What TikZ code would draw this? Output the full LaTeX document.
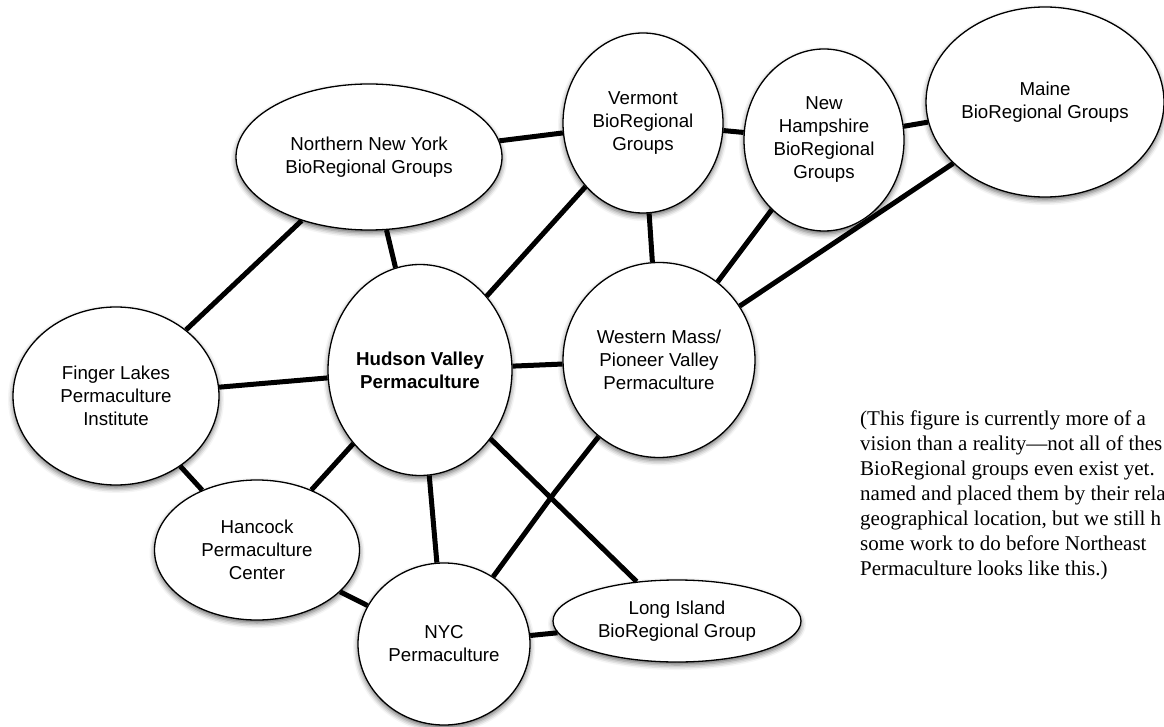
\documentclass[tikz,border=0pt]{standalone}
\usepackage{fontspec}
\setmainfont{Liberation Serif}
\setsansfont{Liberation Sans}
\usetikzlibrary{shapes.geometric,shadows.blur}

\tikzset{
  group/.style={ellipse, draw=black, line width=1.3pt, fill=white, inner sep=0pt, align=center,
    font=\sffamily\fontsize{18.7}{23}\selectfont,
    blur shadow={shadow xshift=0pt, shadow yshift=-3pt, shadow blur radius=5pt, shadow opacity=60}},
  link/.style={line width=5pt}
}

\begin{document}
\begin{tikzpicture}[x=1pt,y=-1pt]
    \useasboundingbox (0,0) rectangle (1164,727);
    \clip (0,0) rectangle (1164,727);
    % bioregional groups
    \node[group, minimum width=266, minimum height=146] (nny) at (369,157) {Northern New York\\BioRegional Groups};
    \node[group, minimum width=160, minimum height=180] (vt) at (643,123) {Vermont\\BioRegional\\Groups};
    \node[group, minimum width=160, minimum height=182] (nh) at (824,140) {New\\Hampshire\\BioRegional\\Groups};
    \node[group, minimum width=238, minimum height=190] (me) at (1045,102) {Maine\\BioRegional Groups};
    \node[group, minimum width=206, minimum height=178] (fl) at (116,396) {Finger Lakes\\Permaculture\\Institute};
    \node[group, minimum width=184, minimum height=211] (hv) at (420,370) {\bfseries Hudson Valley\\\bfseries Permaculture};
    \node[group, minimum width=192, minimum height=195] (wm) at (659,360) {Western Mass/\\Pioneer Valley\\Permaculture};
    \node[group, minimum width=205, minimum height=140] (hc) at (257,550) {Hancock\\Permaculture\\Center};
    \node[group, minimum width=172, minimum height=162] (nyc) at (444,644) {NYC\\Permaculture};
    \node[group, minimum width=248, minimum height=82] (li) at (677,621) {Long Island\\BioRegional Group};
    \coordinate (jog) at (555,492);
    % links
    \draw[link] (nny) -- (vt);
    \draw[link] (vt) -- (nh);
    \draw[link] (nh) -- (me);
    \draw[link] (nny) -- (fl);
    \draw[link] (nny) -- (hv);
    \draw[link] (vt) -- (hv);
    \draw[link] (vt) -- (wm);
    \draw[link] (nh) -- (wm);
    \draw[link] (me) -- (wm);
    \draw[link] (fl) -- (hv);
    \draw[link] (hv) -- (wm);
    \draw[link] (fl) -- (hc);
    \draw[link] (hv) -- (hc);
    \draw[link] (hv) -- (nyc);
    \draw[link] (hv) -- (li);
    \draw[link] (wm) -- (jog) -- (nyc);
    \draw[link] (hc) -- (nyc);
    \draw[link] (nyc) -- (li);
    % note, cut at the right edge as printed
    \node[anchor=north west, align=left, inner sep=0pt, font=\rmfamily\fontsize{21}{25}\selectfont] (note) at (860,411)
      {(This figure is currently more of a\\vision than a reality---not all of thes\\BioRegional groups even exist yet.\\named and placed them by their rela\\geographical location, but we still h\\some work to do before Northeast\\Permaculture looks like this.)};
\end{tikzpicture}
\end{document}
